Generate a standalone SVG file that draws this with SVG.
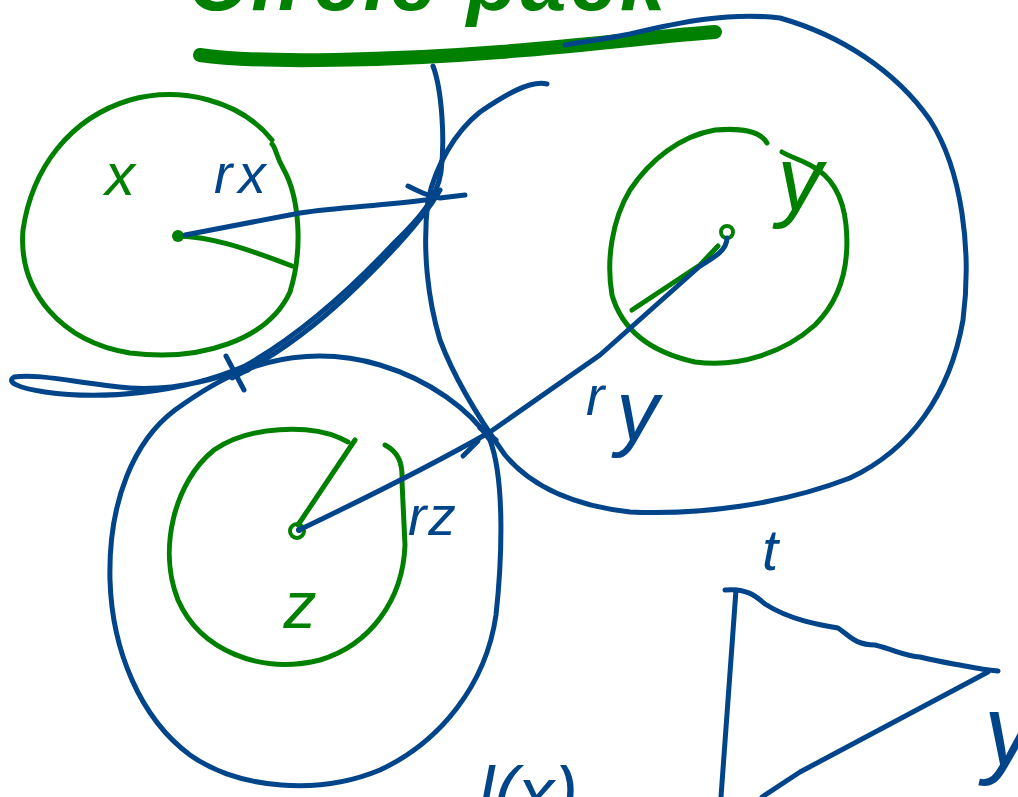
<svg xmlns="http://www.w3.org/2000/svg" width="1018" height="797" viewBox="0 0 1018 797">
<style>
.g{fill:none;stroke:#008000;stroke-width:5;stroke-linecap:round;stroke-linejoin:round}
.b{fill:none;stroke:#00448a;stroke-width:5;stroke-linecap:round;stroke-linejoin:round}
.tg{fill:#008000;font-family:"Liberation Sans",Arial,sans-serif;font-style:italic}
.tb{fill:#00448a;font-family:"Liberation Sans",Arial,sans-serif;font-style:italic}
</style>
<rect width="1018" height="797" fill="#ffffff"/>
<g id="title">
<text class="tg" x="188" y="10" font-size="82" font-weight="bold" letter-spacing="4">Circle pack</text>
<path d="M200,55 C260,64 400,60 500,52 C600,44 660,36 715,32" fill="none" stroke="#008000" stroke-width="14" stroke-linecap="round"/>
</g>
<g id="circle-y-outer">
<path class="b" d="M547,84 C530,80 505,95 480,112 C455,132 436,165 428,200 C422,250 428,300 440,340 C455,380 480,420 505,455 C530,485 570,505 630,512 C700,515 780,505 850,478 C910,450 950,395 963,320 C972,250 962,170 930,120 C895,70 840,35 780,18 C730,12 680,22 630,34 C600,40 580,42 565,45"/>
</g>
<g id="circle-z-outer">
<path class="b" d="M240,372 C280,355 330,350 380,365 C430,380 470,410 490,440 C505,480 502,560 496,615 C486,685 440,742 380,770 C320,795 240,790 190,755 C140,718 112,650 110,580 C108,500 135,440 175,410 C200,392 220,380 240,372"/>
</g>
<g id="tangent">
<path class="b" d="M433,66 C442,90 445,140 441,172 C437,198 420,218 395,242 C350,290 300,335 245,366 C180,394 100,400 45,392 C18,388 6,382 14,377 C40,373 80,384 130,388 C180,391 220,378 262,362"/>
<path class="b" d="M440,190 C422,222 385,260 345,298 C305,335 268,360 232,378"/>
<path class="b" d="M408,186 C420,192 428,196 440,198 L465,195" stroke-width="7"/>
<path class="b" d="M226,356 L244,390 M222,378 L248,370" stroke-width="8"/>
</g>
<g id="node-x">
<path class="g" d="M272,140 C240,100 180,86 130,100 C70,118 32,168 23,230 C18,292 62,342 130,353 C200,362 268,340 290,292 C303,250 300,198 283,168 C276,156 276,148 272,144"/>
<circle cx="178" cy="236" r="6" fill="#008000"/>
<path class="g" d="M178,236 C210,237 240,246 292,266"/>
<text class="tg" x="120" y="195" font-size="60" text-anchor="middle">x</text>
</g>
<g id="node-y">
<path class="g" d="M767,143 C760,130 740,128 715,130 C680,136 650,160 630,190 C612,220 606,260 612,295 C622,330 650,352 695,362 C740,368 785,352 815,325 C840,300 850,265 846,225 C843,195 830,175 810,165 C797,158 790,157 782,152"/>
<circle cx="727" cy="232" r="6" fill="none" stroke="#008000" stroke-width="4"/>
<path class="g" d="M632,310 L700,265 L718,246"/>
<text class="tg" x="800" y="210" font-size="90" text-anchor="middle">y</text>
</g>
<g id="node-z">
<path class="g" d="M385,445 C398,452 403,462 402,482 L405,545 C403,600 370,645 320,660 C260,675 200,650 178,600 C158,550 174,482 214,450 C250,425 310,425 340,438 L348,442"/>
<path class="g" d="M298,525 L355,440"/>
<circle cx="297" cy="531" r="7" fill="none" stroke="#008000" stroke-width="4"/>
<text class="tg" x="300" y="628" font-size="66" text-anchor="middle">z</text>
</g>
<g id="connectors">
<path class="b" d="M185,235 L300,213 C340,207 380,206 425,200"/>
<path class="b" d="M299,530 C345,508 420,472 490,432 L600,355 L700,266 C715,257 727,250 727,238"/>
<circle cx="299" cy="530" r="3" fill="#00448a"/>
<path class="b" d="M463,456 L478,441"/>
<path class="b" d="M480,428 L496,440" stroke-width="7"/>
</g>
<g id="labels">
<text class="tb" x="214" y="193" font-size="55" letter-spacing="6">rx</text>
<text class="tb" x="586" y="415" font-size="55">r<tspan font-size="85" dx="12" dy="25">y</tspan></text>
<text class="tb" x="408" y="535" font-size="55">r<tspan dx="2">z</tspan></text>
</g>
<g id="triangle">
<path class="b" d="M736,590 L721,797"/>
<path class="b" d="M725,590 C745,588 755,595 765,604 C790,620 820,625 838,628 C850,636 855,645 875,645 C895,650 905,656 920,657 C940,662 955,664 965,666 C975,668 985,670 998,671"/>
<path class="b" d="M988,672 L800,772 L762,797"/>
<text class="tb" x="762" y="570" font-size="58">t</text>
<text class="tb" x="984" y="765" font-size="100">y</text>
</g>
<g id="bottom-label">
<text class="tb" x="478" y="818" font-size="72">l(x)</text>
</g>
</svg>
